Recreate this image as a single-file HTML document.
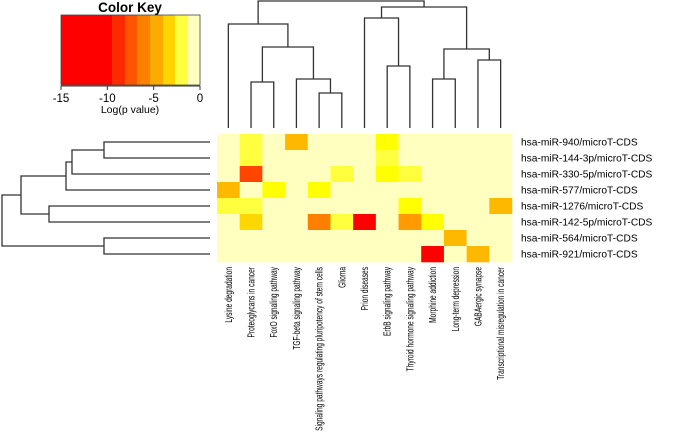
<!DOCTYPE html>
<html><head><meta charset="utf-8"><style>
html,body{margin:0;padding:0;background:#fff;}
svg{display:block;font-family:"Liberation Sans",sans-serif;}
</style></head><body>
<svg id="chart" width="685" height="447" viewBox="0 0 685 447" xmlns="http://www.w3.org/2000/svg">
<g id="key"></g>
<g id="topdend" stroke="#333" stroke-width="1.3" fill="none"></g>
<g id="leftdend" stroke="#333" stroke-width="1.3" fill="none"></g>
<g id="cells"></g>
<g id="rlabels"></g>
<g id="clabels"></g>
</svg>
<script>
const rows = ["hsa-miR-940/microT-CDS","hsa-miR-144-3p/microT-CDS","hsa-miR-330-5p/microT-CDS","hsa-miR-577/microT-CDS","hsa-miR-1276/microT-CDS","hsa-miR-142-5p/microT-CDS","hsa-miR-564/microT-CDS","hsa-miR-921/microT-CDS"];
const cols = ["Lysine degradation","Proteoglycans in cancer","FoxO signaling pathway","TGF-beta signaling pathway","Signaling pathways regulating pluripotency of stem cells","Glioma","Prion diseases","ErbB signaling pathway","Thyroid hormone signaling pathway","Morphine addiction","Long-term depression","GABAergic synapse","Transcriptional misregulation in cancer"];
const values = [
 [0,-2,0,-4,0,0,0,-2.5,0,0,0,0,0],
 [0,-2,0,0,0,0,0,-1.8,0,0,0,0,0],
 [0,-8,0,0,0,-2,0,-2.5,-1.8,0,0,0,0],
 [-4.5,0,-2.5,0,-2.5,0,0,0,0,0,0,0,0],
 [-2,-2,0,0,0,0,0,0,-2.5,0,0,0,-4.5],
 [0,-3.5,0,0,-6.5,-2,-12,0,-5.5,-2.5,0,0,0],
 [0,0,0,0,0,0,0,0,0,0,-4.5,0,0],
 [0,0,0,0,0,0,0,0,0,-12,0,-4.5,0]
];
const keyTicks = [-15,-10,-5,0];
const keyBins = [-15,-9.5,-8.1,-6.8,-5.4,-4,-2.7,-1.3,0];
const keyColors = ["#ff0000","#ff2a00","#ff5500","#ff8000","#ffaa00","#ffd400","#ffff40","#ffffc0"];
const colMerges = [[1,2,82],[4,5,93],[3,14,79],[13,15,47],[0,16,24],[7,8,66],[6,18,18],[9,10,79],[11,12,60],[20,21,49],[19,22,7],[17,23,1]];
const rowMerges = [[0,1,104],[8,2,72],[9,3,66],[4,5,49],[10,11,21],[6,7,104],[12,13,2]];

const NS="http://www.w3.org/2000/svg";
function mk(tag,attrs,parent){const e=document.createElementNS(NS,tag);for(const k in attrs)e.setAttribute(k,attrs[k]);parent.appendChild(e);return e;}
const hx0=217,hx1=512,hy0=134,hy1=262;
const cw=(hx1-hx0)/cols.length, rh=(hy1-hy0)/rows.length;
const xc=i=>hx0+cw*(i+0.5), yc=i=>hy0+rh*(i+0.5);
function color(v){
 if(v<=-9.5)return"#ff0000";if(v<=-7)return"#ff4500";if(v<=-6)return"#ff8000";if(v<=-5)return"#ff9a00";
 if(v<=-4)return"#ffb800";if(v<=-3)return"#ffd700";if(v<=-2.2)return"#ffff00";if(v<=-1)return"#ffff40";return"#ffffc0";}
const cells=document.getElementById('cells');
values.forEach((r,i)=>r.forEach((v,j)=>{
 const c=mk('rect',{x:hx0+cw*j,y:hy0+rh*i,width:cw+0.3,height:rh+0.3,fill:color(v)},cells);
 
 
}));
const rl=document.getElementById('rlabels');
rows.forEach((r,i)=>{const t=mk('text',{x:521,y:yc(i)+3.5,'font-size':10.2,fill:'#000'},rl);t.textContent=r;
 
 });
const cl=document.getElementById('clabels');
cols.forEach((c,j)=>{const t=mk('text',{transform:`translate(${xc(j)+3.5},267) rotate(-90) scale(0.63,1)`,'text-anchor':'end','font-size':10.5,fill:'#000'},cl);t.textContent=c;
 
 });
const td=document.getElementById('topdend');
const cpos={};cols.forEach((c,j)=>cpos[j]=[xc(j),128]);
colMerges.forEach((m,k)=>{const a=cpos[m[0]],b=cpos[m[1]],h=m[2];
 const p=mk('path',{d:`M${a[0]},${a[1]}V${h}H${b[0]}V${b[1]}`},td);
 
 
 cpos[cols.length+k]=[(a[0]+b[0])/2,h];});
const ld=document.getElementById('leftdend');
const rpos={};rows.forEach((r,i)=>rpos[i]=[210,yc(i)]);
rowMerges.forEach((m,k)=>{const a=rpos[m[0]],b=rpos[m[1]],h=m[2];
 const p=mk('path',{d:`M${a[0]},${a[1]}H${h}V${b[1]}H${b[0]}`},ld);
 
 
 rpos[rows.length+k]=[h,(a[1]+b[1])/2];});
const key=document.getElementById('key');
const kx0=61,kx1=200,ky0=15,ky1=85;
const kx=v=>kx0+(v+15)/15*(kx1-kx0);
for(let i=0;i<keyColors.length;i++){const r=mk('rect',{x:kx(keyBins[i]),y:ky0,width:kx(keyBins[i+1])-kx(keyBins[i])+0.3,height:ky1-ky0,fill:keyColors[i]},key);
 
 }
mk('rect',{x:kx0,y:ky0,width:kx1-kx0,height:ky1-ky0,fill:'none',stroke:'#444','stroke-width':0.8},key);
mk('line',{x1:kx0,x2:kx1,y1:ky1+1,y2:ky1+1,stroke:'#333'},key);
keyTicks.forEach(v=>{mk('line',{x1:kx(v),x2:kx(v),y1:ky1+1,y2:ky1+5,stroke:'#333'},key);
 const t=mk('text',{x:kx(v),y:ky1+17,'text-anchor':'middle','font-size':11.5},key);t.textContent=v;
 
 });
const tt=mk('text',{x:130,y:12,'text-anchor':'middle','font-size':13.5,'font-weight':'bold'},key);tt.textContent='Color Key';


const xl=mk('text',{x:130,y:113,'text-anchor':'middle','font-size':10.5},key);xl.textContent='Log(p value)';


</script>
</body></html>
